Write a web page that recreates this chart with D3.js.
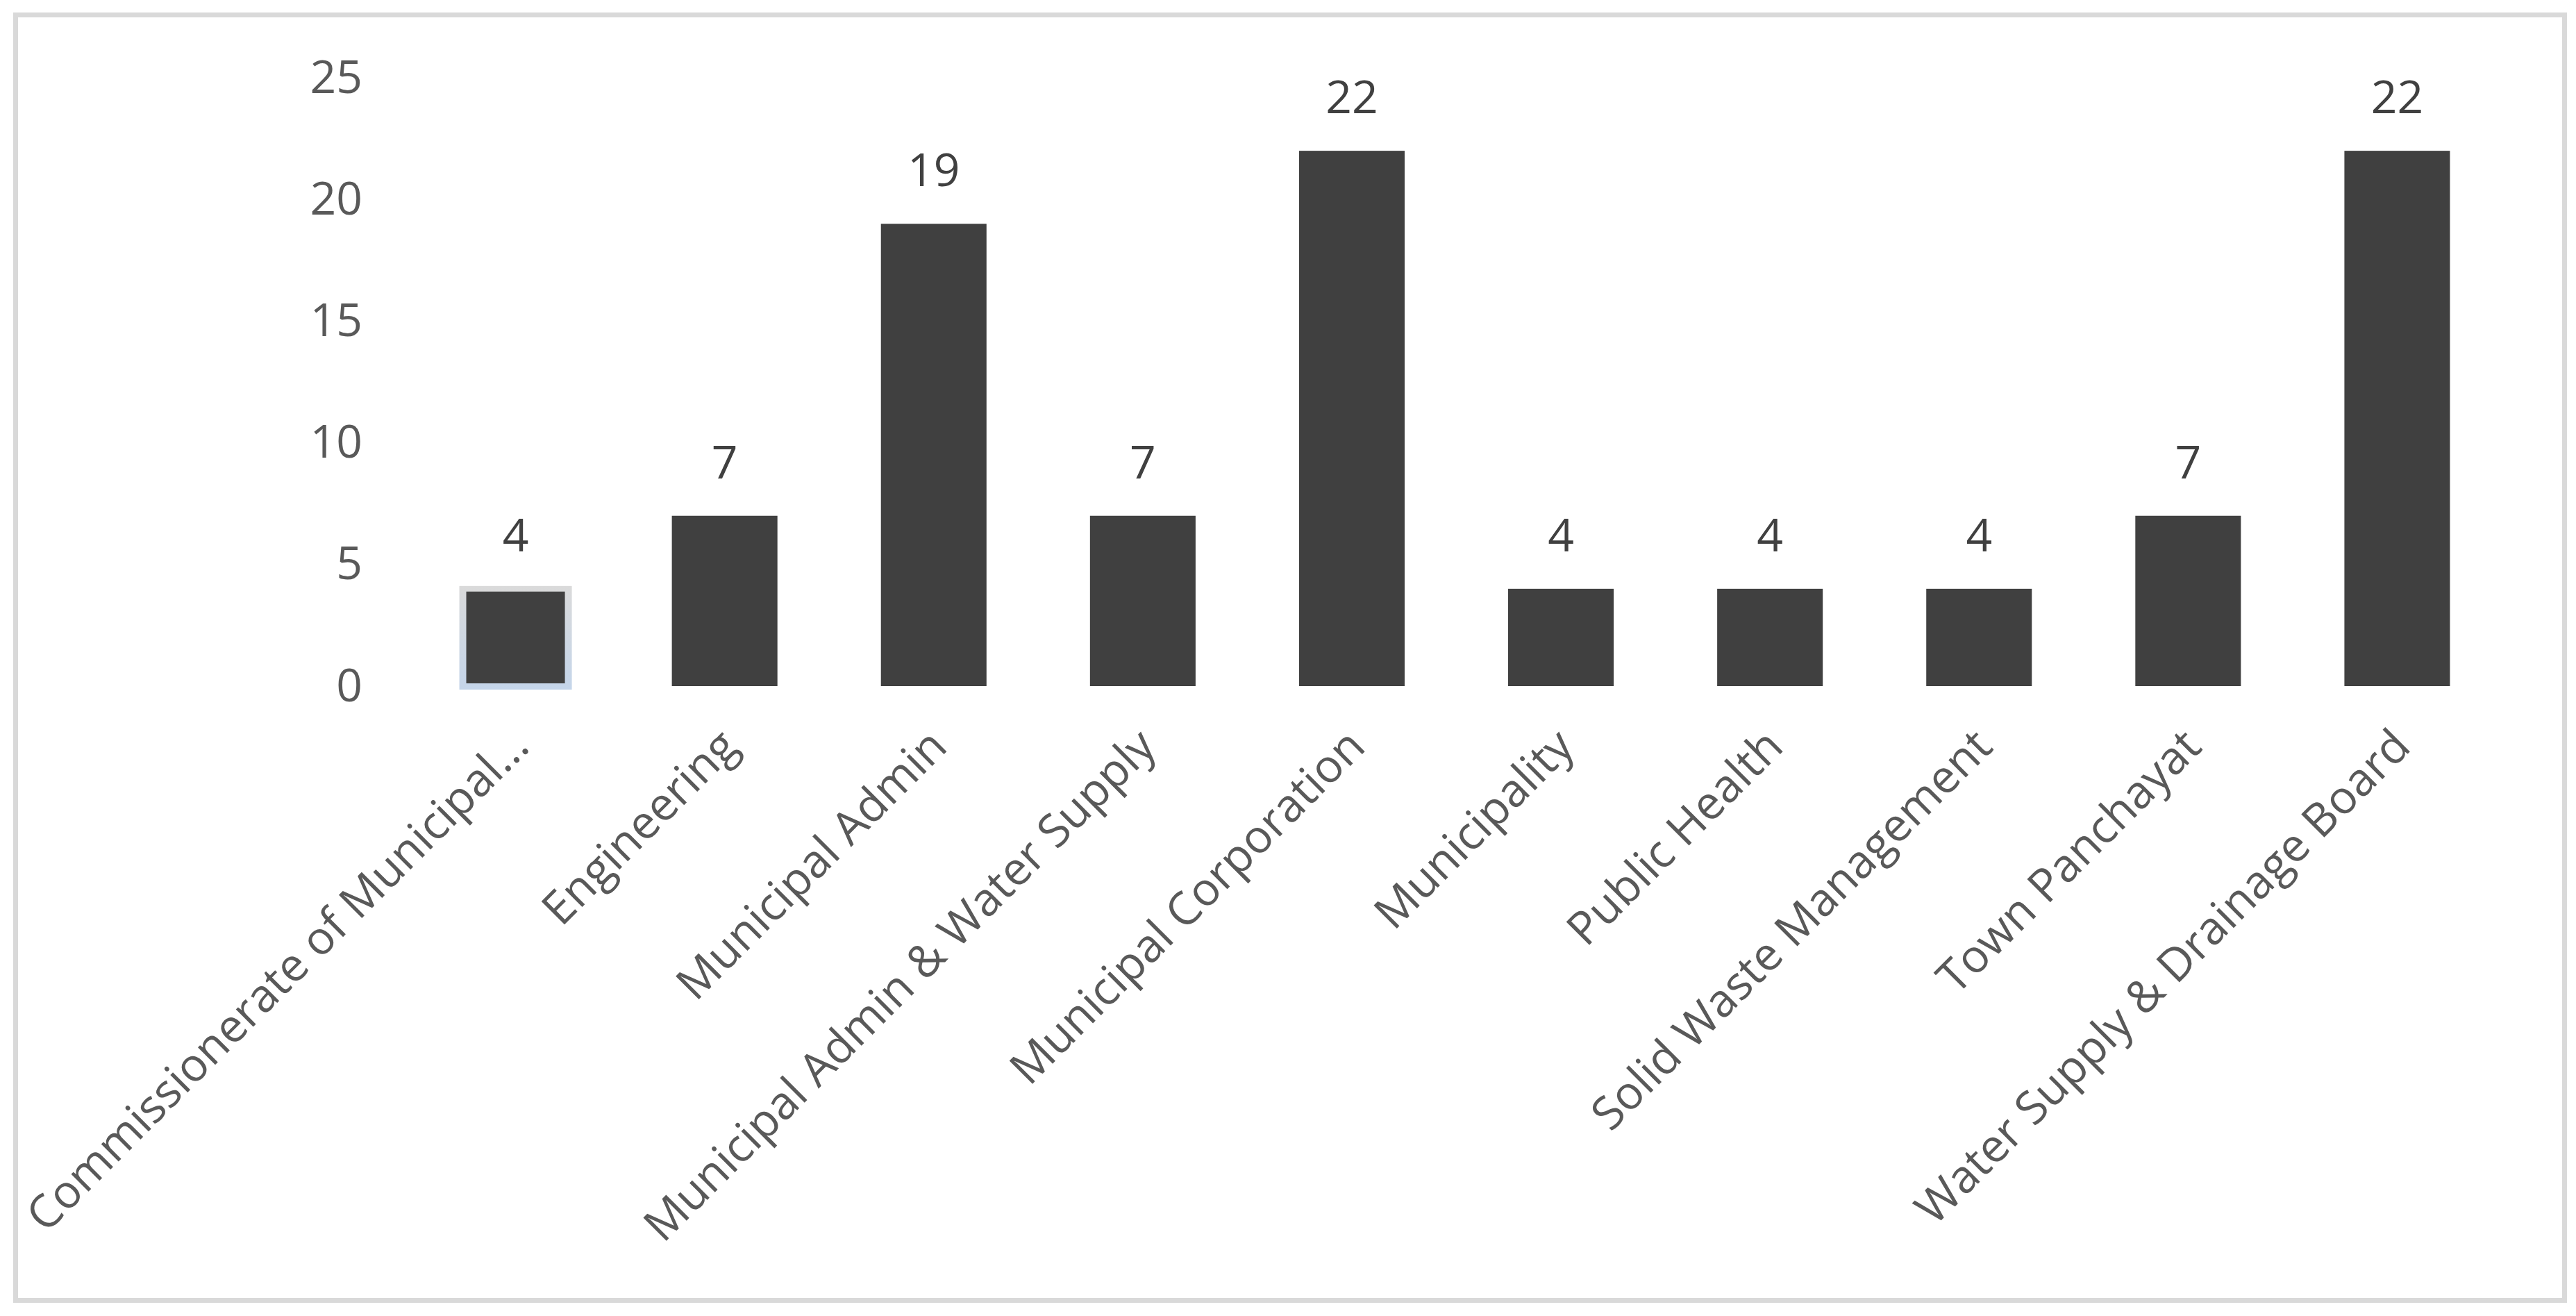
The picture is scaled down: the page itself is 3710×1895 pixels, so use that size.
<!DOCTYPE html>
<html lang="en">
	<head>
		<meta charset="utf-8">
		<title>Departments</title>
		<script type="text/javascript" src="https://cdn.jsdelivr.net/npm/d3@7"></script>
		<style type="text/css">
			body {
				margin: 0;
				background: #ffffff;
			}
			text {
				font-family: "Open Sans", "Noto Sans", sans-serif;
			}
		</style>
	</head>
	<body>
		<script type="text/javascript">

			//Chart data
			var categories = [
				"Commissionerate of Municipal...",
				"Engineering",
				"Municipal Admin",
				"Municipal Admin & Water Supply",
				"Municipal Corporation",
				"Municipality",
				"Public Health",
				"Solid Waste Management",
				"Town Panchayat",
				"Water Supply & Drainage Board"
			];
			var counts = [4, 7, 19, 7, 22, 4, 4, 4, 7, 22];
			var yTicks = [0, 5, 10, 15, 20, 25];

			//Width and height of SVG canvas
			var w = 3710;
			var h = 1895;

			//Plot area
			var left = 592;
			var right = 3603;
			var top_y = 112;
			var base_y = 988;

			var svg = d3.select("body")
						.append("svg")
						.attr("width", w)
						.attr("height", h);

			//Outer frame
			svg.append("rect")
				.attr("x", 22.5)
				.attr("y", 21.5)
				.attr("width", 3671)
				.attr("height", 1851)
				.attr("fill", "#ffffff")
				.attr("stroke", "#d9d9d9")
				.attr("stroke-width", 7);

			//Scales
			var xScale = d3.scaleBand()
						.domain(categories)
						.range([left, right])
						.paddingInner(0.495)
						.paddingOuter(0.2475);

			var yScale = d3.scaleLinear()
						.domain([0, 25])
						.range([base_y, top_y]);

			//Y axis, labels only
			var yAxis = d3.axisLeft(yScale)
						.tickValues(yTicks)
						.tickSize(0)
						.tickPadding(8);

			var yAxisAdd = svg.append("g")
				.attr("transform", "translate(530,0)")
				.call(yAxis);
			yAxisAdd.select(".domain").remove();
			yAxisAdd.selectAll("text")
				.attr("fill", "#595959")
				.style("font-size", "66px");

			//X axis, rotated labels
			var xAxis = d3.axisBottom(xScale)
						.tickSize(0)
						.tickPadding(0);

			var xAxisAdd = svg.append("g")
				.attr("transform", "translate(0," + base_y + ")")
				.call(xAxis);
			xAxisAdd.select(".domain").remove();
			xAxisAdd.selectAll("text")
				.attr("fill", "#595959")
				.style("font-size", "66px")
				.attr("text-anchor", "end")
				.attr("x", 0)
				.attr("y", 0)
				.attr("dy", "0.35em")
				.attr("transform", "translate(6,74) rotate(-45)");

			//Selection frame round the first bar
			var defs = svg.append("defs");
			var grad = defs.append("linearGradient")
				.attr("id", "selgrad")
				.attr("x1", 0).attr("y1", 0)
				.attr("x2", 0).attr("y2", 1);
			grad.append("stop").attr("offset", "0%").attr("stop-color", "#dadada");
			grad.append("stop").attr("offset", "100%").attr("stop-color", "#c4d5ea");

			svg.append("rect")
				.attr("x", xScale(categories[0]) - 5)
				.attr("y", yScale(counts[0]) - 4)
				.attr("width", xScale.bandwidth() + 10)
				.attr("height", base_y - yScale(counts[0]) + 9)
				.attr("fill", "url(#selgrad)");

			//Bars
			svg.selectAll("rect.bar")
				.data(counts)
				.enter()
				.append("rect")
				.attr("class", "bar")
				.attr("x", function(d, i) { return xScale(categories[i]) + (i === 0 ? 5 : 0); })
				.attr("y", function(d, i) { return yScale(d) + (i === 0 ? 4 : 0); })
				.attr("width", function(d, i) { return xScale.bandwidth() - (i === 0 ? 10 : 0); })
				.attr("height", function(d, i) { return base_y - yScale(d) - (i === 0 ? 8 : 0); })
				.attr("fill", "#404040");

			//Value labels
			svg.selectAll("text.value")
				.data(counts)
				.enter()
				.append("text")
				.attr("class", "value")
				.attr("x", function(d, i) { return xScale(categories[i]) + xScale.bandwidth() / 2; })
				.attr("y", function(d) { return yScale(d) - 77; })
				.attr("dy", "0.35em")
				.attr("text-anchor", "middle")
				.attr("fill", "#404040")
				.style("font-size", "66px")
				.text(function(d) { return d; });

		</script>
	</body>
</html>
